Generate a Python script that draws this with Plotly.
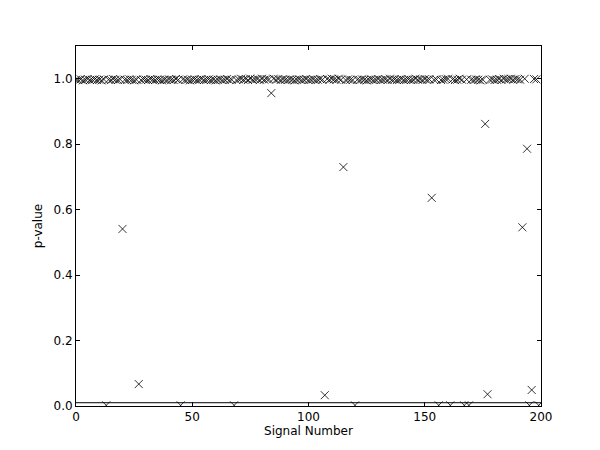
import plotly.graph_objects as go

# p-values per signal (index 0..199)
p_values = [
    0.997, 0.996, 0.998, 0.995, 0.997, 0.999, 0.996, 0.997, 0.998, 0.996,
    0.997, 0.995, 0.998, 0.002, 0.997, 0.996, 0.999, 0.997, 0.996, 0.998,
    0.541, 0.997, 0.996, 0.998, 0.997, 0.995, 0.997, 0.067, 0.996, 0.998,
    0.997, 0.996, 0.999, 0.997, 0.996, 0.998, 0.997, 0.995, 0.997, 0.996,
    0.998, 0.997, 0.996, 0.999, 0.997, 0.002, 0.998, 0.996, 0.997, 0.995,
    0.997, 0.998, 0.996, 0.997, 0.999, 0.996, 0.997, 0.998, 0.996, 0.997,
    0.995, 0.997, 0.998, 0.996, 0.997, 0.999, 0.996, 0.997, 0.002, 0.996,
    0.998, 1.000, 0.997, 0.999, 0.996, 1.000, 0.997, 0.998, 0.999, 0.996,
    1.000, 0.997, 0.999, 0.998, 0.956, 1.000, 0.997, 0.999, 0.996, 0.998,
    0.997, 0.996, 0.998, 0.997, 0.995, 0.997, 0.998, 0.996, 0.997, 0.999,
    0.996, 0.997, 0.998, 0.996, 0.997, 0.999, 0.997, 0.033, 0.999, 0.997,
    1.000, 0.998, 0.997, 1.000, 0.997, 0.730, 0.996, 0.998, 0.997, 0.996,
    0.002, 0.997, 0.996, 0.998, 0.997, 0.995, 0.997, 0.998, 0.996, 0.997,
    0.999, 0.996, 0.997, 0.998, 0.996, 1.000, 0.997, 0.998, 0.996, 0.997,
    0.999, 0.996, 0.997, 0.998, 0.996, 0.997, 1.000, 0.997, 0.998, 0.996,
    0.999, 0.997, 0.998, 0.636, 0.997, 0.998, 0.002, 0.996, 0.997, 0.999,
    1.000, 0.002, 0.998, 0.996, 0.997, 1.000, 0.997, 0.002, 0.998, 0.002,
    0.997, 0.996, 0.998, 0.997, 0.995, 0.997, 0.862, 0.036, 0.997, 0.998,
    0.996, 0.997, 0.999, 0.996, 1.000, 0.998, 0.999, 1.000, 0.997, 0.999,
    0.998, 0.997, 0.546, 1.000, 0.786, 0.002, 0.049, 0.999, 0.998, 0.002,
]
signals = list(range(len(p_values)))
threshold = 0.01

font = dict(family="DejaVu Sans", size=12, color="black")

fig = go.Figure()

# threshold line
fig.add_trace(go.Scatter(
    x=[0, 200], y=[threshold, threshold],
    mode="lines",
    line=dict(color="black", width=1),
    hoverinfo="skip",
))

# p-values
fig.add_trace(go.Scatter(
    x=signals, y=p_values,
    mode="markers",
    marker=dict(symbol="x-thin", size=8, color="black",
                line=dict(color="black", width=0.8)),
))

axis_common = dict(
    showgrid=False, zeroline=False, automargin=False,
    showline=True, linecolor="black", linewidth=1, mirror="ticks",
    ticks="inside", ticklen=4, tickcolor="black",
    tickfont=font,
)

# page has a small body offset, so the margins are shifted to compensate
fig.update_layout(
    width=600, height=450,
    margin=dict(l=68, r=67, t=38, b=52, autoexpand=False),
    paper_bgcolor="white", plot_bgcolor="white",
    showlegend=False,
    font=font,
    xaxis=dict(range=[0, 200], tickvals=[0, 50, 100, 150, 200],
               title=dict(text="Signal Number", font=font, standoff=2),
               **axis_common),
    yaxis=dict(range=[0, 1.1], tickvals=[0, 0.2, 0.4, 0.6, 0.8, 1.0],
               tickformat=".1f",
               title=dict(text="p-value", font=font, standoff=8),
               **axis_common),
)

fig.write_html("out.html")
